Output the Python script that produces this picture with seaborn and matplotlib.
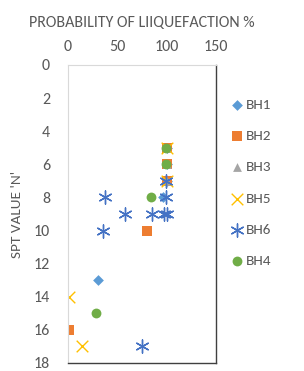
import matplotlib
matplotlib.use("Agg")
import matplotlib.pyplot as plt
import seaborn as sns
import pandas as pd

# 各钻孔数据: 液化概率 (%) 与 SPT N 值
series = ["BH1", "BH2", "BH3", "BH5", "BH6", "BH4"]
prob = {
    "BH1": [30, 96, 100, 100, 100],
    "BH2": [1, 80, 100, 100, 100],
    "BH3": [100, 100, 100],
    "BH5": [1, 14, 100, 100],
    "BH6": [37, 58, 85, 97, 100, 35, 99, 99, 75],
    "BH4": [28, 84, 99, 99],
}
spt = {
    "BH1": [13, 8, 7, 6, 5],
    "BH2": [16, 10, 7, 6, 5],
    "BH3": [7, 6, 5],
    "BH5": [14, 17, 7, 5],
    "BH6": [8, 9, 9, 9, 9, 10, 8, 7, 17],
    "BH4": [15, 8, 5, 6],
}
colors = {"BH1": "#5B9BD5", "BH2": "#ED7D31", "BH3": "#A5A5A5",
          "BH5": "#FFC000", "BH6": "#4472C4", "BH4": "#70AD47"}
markers = {"BH1": "D", "BH2": "s", "BH3": "^", "BH5": "x", "BH6": (6, 2, 0), "BH4": "o"}
sizes = {"BH1": 30, "BH2": 45, "BH3": 40, "BH5": 70, "BH6": 90, "BH4": 50}

df = pd.DataFrame(
    [{"series": s, "prob": p, "spt": n} for s in series for p, n in zip(prob[s], spt[s])]
)

grey = "#595959"
sns.set_style("white")
plt.rcParams["font.family"] = ["Carlito", "Lato", "Liberation Sans", "DejaVu Sans"]

fig = plt.figure(figsize=(3.04, 3.71), dpi=100)
ax = fig.add_axes([68 / 304, 8 / 371, 148 / 304, 298 / 371])

for s in series:
    sub = df[df["series"] == s]
    m = markers[s]
    lw = 1.0 if (m == "x" or isinstance(m, tuple)) else 0
    sns.scatterplot(data=sub, x="prob", y="spt", ax=ax, marker=m, color=colors[s],
                    s=sizes[s], linewidth=lw, label=s)

ax.set_xlim(0, 150)
ax.set_ylim(18, 0)
ax.set_xticks([0, 50, 100, 150])
ax.set_yticks(range(0, 19, 2))
ax.xaxis.tick_top()
ax.xaxis.set_label_position("top")
ax.set_xlabel("PROBABILITY OF LIIQUEFACTION %", color=grey, fontsize=11.5, labelpad=9)
ax.set_ylabel("SPT VALUE 'N'", color=grey, fontsize=11, labelpad=8)
ax.tick_params(axis="x", length=0, labelsize=11.5, labelcolor=grey, pad=8)
ax.tick_params(axis="y", length=0, labelsize=11.5, labelcolor=grey, pad=13)

for side in ["left", "top"]:
    ax.spines[side].set_color("#D9D9D9")
    ax.spines[side].set_linewidth(0.8)
for side in ["right", "bottom"]:
    ax.spines[side].set_color("#404040")
    ax.spines[side].set_linewidth(1.0)

leg = ax.legend(loc="upper left", bbox_to_anchor=(1.05, 0.91), frameon=False,
                fontsize=11, labelcolor=grey, handletextpad=0.05, labelspacing=1.22,
                borderaxespad=0, handlelength=1.0)

fig.savefig("out.png", dpi=100)
